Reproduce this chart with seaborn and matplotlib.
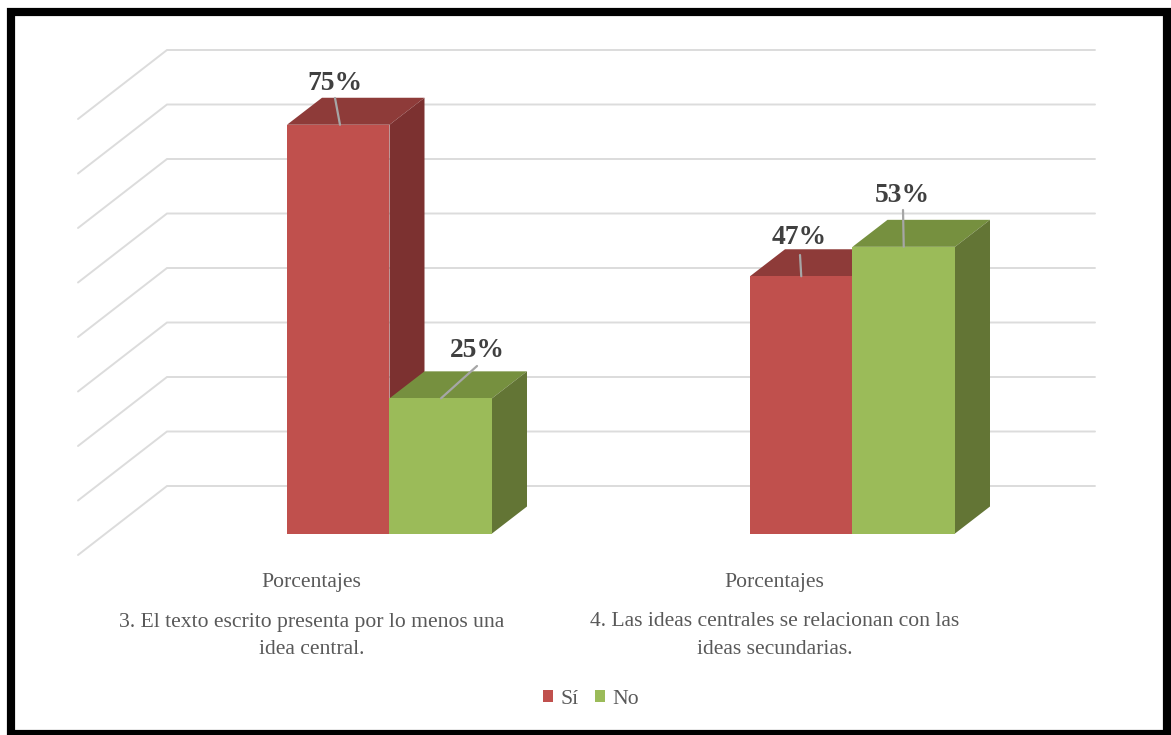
import pandas as pd
import matplotlib
matplotlib.use("Agg")
import matplotlib.pyplot as plt
from matplotlib.patches import Polygon, Rectangle
import seaborn as sns

# Datos
preguntas = ["3. El texto escrito presenta por lo menos una\nidea central.",
             "4. Las ideas centrales se relacionan con las\nideas secundarias."]
serie_nombres = ["Sí", "No"]
valores_si = [75.0, 47.2]
valores_no = [24.8, 52.6]
grid_valores = [0, 10, 20, 30, 40, 50, 60, 70, 80]
serie_label = "Porcentajes"

W, H = 1171, 735
PX_X = 463.0    # pixeles por categoria
PX_Y = 5.45     # pixeles por punto porcentual
X0, Y0 = 389.5, 533.5   # pixel de la categoria 0 / valor 0
DEPTH_X, DEPTH_Y = 35, 27

colores = {"Sí": "#C0504D", "No": "#9BBB59"}
tapa = {"Sí": "#8E3B39", "No": "#76903F"}
lado = {"Sí": "#7C3130", "No": "#637535"}

df = pd.DataFrame({
    "pregunta": preguntas * 2,
    "serie": [serie_nombres[0]] * 2 + [serie_nombres[1]] * 2,
    "valor": valores_si + valores_no,
})

sns.set_theme(style="white")
plt.rcParams["font.family"] = ["Liberation Serif", "DejaVu Serif"]

fig = plt.figure(figsize=(W / 100, H / 100), dpi=100, facecolor="white")
ax = fig.add_axes([0, 0, 1, 1])

# barras frontales con seaborn
sns.barplot(data=df, x="pregunta", y="valor", hue="serie", palette=colores,
            width=205 / PX_X, gap=0, saturation=1, linewidth=0, ax=ax, zorder=3)

ax.set_xlim(-X0 / PX_X, (W - X0) / PX_X)
ax.set_ylim((Y0 - H) / PX_Y, Y0 / PX_Y)
ax.axis("off")


def px_x(p):
    return (p - X0) / PX_X


def px_y(p):
    return (Y0 - p) / PX_Y


# lineas de la pared y el piso
for v in grid_valores:
    yb = px_y(486) + v
    yf = px_y(555) + v
    ax.plot([px_x(78), px_x(167), px_x(1095)], [yf, yb, yb],
            color="#DCDCDC", lw=1.4, zorder=1, solid_joinstyle="miter")

# caras de profundidad
dx = DEPTH_X / PX_X
dy = DEPTH_Y / PX_Y
barras = [b for b in ax.patches if isinstance(b, Rectangle) and b.get_height() > 0]
for b, nombre in zip(barras, [serie_nombres[0]] * 2 + [serie_nombres[1]] * 2):
    x0, w, h = b.get_x(), b.get_width(), b.get_height()
    ax.add_patch(Polygon([(x0, h), (x0 + w, h), (x0 + w + dx, h + dy), (x0 + dx, h + dy)],
                         closed=True, fc=tapa[nombre], ec="none", zorder=2))
    ax.add_patch(Polygon([(x0 + w, 0), (x0 + w + dx, dy), (x0 + w + dx, h + dy), (x0 + w, h)],
                         closed=True, fc=lado[nombre], ec="none", zorder=2))

# etiquetas de datos con linea guia (x tope, y fin de la guia, centro de texto)
for b, (gx, gy, tx, ty) in zip(barras, [(335, 98, 335, 83), (800, 255, 799, 238),
                                        (477, 366, 477, 351), (903, 210, 902, 195)]):
    h = b.get_height()
    xc = b.get_x() + b.get_width() / 2
    if h > 70:
        xc = px_x(340)
    elif h < 30:
        xc = px_x(441)
    ax.plot([xc, px_x(gx)], [h, px_y(gy)], color="#A6A6A6", lw=1.6, zorder=4)
    ax.text(px_x(tx), px_y(ty), f"{h:.0f}%", ha="center", va="center",
            fontsize=19.8, fontweight="bold", color="#404040", zorder=5)

# rotulos de categoria
for i, p in enumerate(preguntas):
    xt = i - 78 / PX_X
    ax.text(xt, px_y(583), serie_label, ha="center", va="center", fontsize=15.6, color="#595959")
    l1, l2 = p.split("\n")
    ax.text(xt, px_y(622), l1, ha="center", va="center", fontsize=15.6, color="#595959")
    ax.text(xt, px_y(649), l2, ha="center", va="center", fontsize=15.6, color="#595959")

# leyenda
sns.move_legend(ax, "center", bbox_to_anchor=(591 / W, 1 - 699 / H), ncol=2, title=None,
                frameon=False, fontsize=15.6, labelcolor="#595959", handlelength=0.46,
                handleheight=0.46, handletextpad=0.35, columnspacing=0.75)

# marco negro
fig.add_artist(Rectangle((11 / W, 1 - 733.5 / H), (1167 - 11) / W, (733.5 - 12) / H,
                         transform=fig.transFigure, fill=False, ec="black", lw=5.9))

fig.savefig("out.png", dpi=100)
